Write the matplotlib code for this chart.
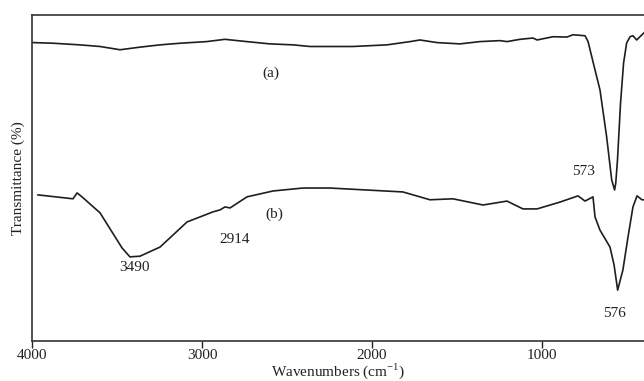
import numpy as np
import matplotlib
matplotlib.use("Agg")
import matplotlib.pyplot as plt

plt.rcParams["font.family"] = ["Liberation Serif", "DejaVu Serif"]
plt.rcParams["mathtext.fontset"] = "custom"
plt.rcParams["mathtext.rm"] = "Liberation Serif"

# ---------------------------------------------
# spectrum (a): wavenumber (cm-1) / transmittance (%)
# ---------------------------------------------
wn_a = [3996, 3875, 3718, 3600, 3482, 3365, 3247, 3129, 2973, 2865, 2737, 2600,
        2463, 2365, 2306, 2247, 2112, 1912, 1776, 1718, 1618, 1482, 1365, 1247,
        1206, 1129, 1053, 1029, 935, 853, 818, 747, 729, 698, 659, 620, 590, 573,
        566, 556, 538, 520, 502, 482, 465, 443, 400]
tr_a = [91.5, 91.3, 90.8, 90.3, 89.3, 90.1, 90.8, 91.3, 91.8, 92.5, 91.8, 91.1,
        90.8, 90.3, 90.3, 90.3, 90.3, 90.8, 91.8, 92.3, 91.5, 91.1, 91.8, 92.1,
        91.8, 92.5, 92.9, 92.3, 93.3, 93.2, 93.9, 93.6, 91.8, 85.2, 77.0, 62.7, 49.4, 46.3,
        48.5, 55.5, 73.0, 85.3, 91.4, 93.3, 93.6, 92.3, 94.5]

# ---------------------------------------------
# spectrum (b)
# ---------------------------------------------
wn_b = [3965, 3759, 3735, 3706, 3600, 3470, 3424, 3365, 3247, 3088, 2935, 2894, 2865,
        2835, 2735, 2582, 2406, 2247, 1818, 1659, 1524, 1347, 1206, 1112, 1029,
        894, 788, 747, 700, 688, 659, 600, 576, 555, 524, 494, 465, 441, 412, 400]
tr_b = [44.8, 43.6, 45.4, 44.2, 39.3, 28.5, 25.8, 26.0, 28.8, 36.5, 39.6, 40.2, 41.1,
        40.8, 44.2, 46.0, 46.9, 46.9, 45.7, 43.3, 43.6, 41.7, 42.9, 40.5, 40.5,
        42.6, 44.5, 42.9, 44.2, 38.0, 34.0, 28.8, 23.3, 15.6, 21.8, 31.9, 41.1, 44.5, 43.3, 43.3]

# peak annotations: text, wavenumber, transmittance
peak_text = ["3490", "2914", "573", "576", "(a)", "(b)"]
peak_wn = [3400, 2810, 758, 575, 2595, 2575]
peak_tr = [22.5, 31.0, 52.0, 8.5, 82.0, 39.0]

xticks = [4000, 3000, 2000, 1000]

fig = plt.figure(figsize=(6.44, 3.81), dpi=100)
ax = fig.add_axes([0.0497, 0.105, 0.9503, 0.856])

line_col = "#1e1e1e"
ax.plot(wn_a, tr_a, color=line_col, lw=1.2)
ax.plot(wn_b, tr_b, color=line_col, lw=1.2)

for t, w, v in zip(peak_text, peak_wn, peak_tr):
    ax.text(w, v, t, ha="center", va="center", fontsize=11, color="#222222")

ax.set_xlim(4000, 400)
ax.set_ylim(0, 100)
ax.set_xticks(xticks)
ax.set_xticklabels([str(v) for v in xticks], fontsize=11)
ax.set_yticks([])
ax.tick_params(axis="x", direction="out", length=5, width=1.0, pad=1, colors="#222222")

for side in ["left", "top", "bottom"]:
    ax.spines[side].set_linewidth(1.2)
    ax.spines[side].set_color("#333333")
ax.spines["right"].set_visible(False)

ax.set_xlabel(r"Wavenumbers (cm$^{\mathregular{-1}}$)", fontsize=11, labelpad=-1, color="#222222")
ax.set_ylabel("Transmittance (%)", fontsize=11, labelpad=5, color="#222222")

fig.savefig("out.png", dpi=100)
